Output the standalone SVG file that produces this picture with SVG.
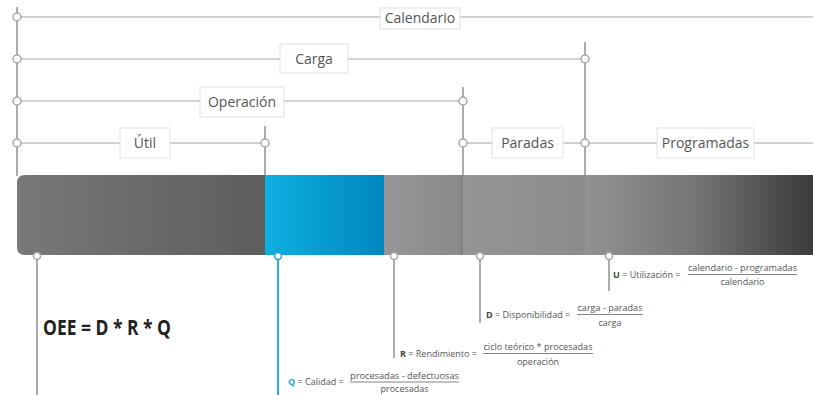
<svg xmlns="http://www.w3.org/2000/svg" width="813" height="395" viewBox="0 0 813 395">
  <defs>
    <linearGradient id="gUtil" x1="0" y1="0" x2="1" y2="0">
      <stop offset="0" stop-color="#787878"/>
      <stop offset="1" stop-color="#5d5d5d"/>
    </linearGradient>
    <linearGradient id="gBlue" x1="0" y1="0" x2="1" y2="0">
      <stop offset="0" stop-color="#0db0e0"/>
      <stop offset="1" stop-color="#0087bf"/>
    </linearGradient>
    <linearGradient id="gRend" x1="0" y1="0" x2="1" y2="0">
      <stop offset="0" stop-color="#979797"/>
      <stop offset="0.95" stop-color="#8a8a8a"/>
      <stop offset="1" stop-color="#7e7e7e"/>
    </linearGradient>
    <linearGradient id="gPar" x1="0" y1="0" x2="1" y2="0">
      <stop offset="0" stop-color="#959595"/>
      <stop offset="1" stop-color="#8c8c8c"/>
    </linearGradient>
    <linearGradient id="gProg" x1="0" y1="0" x2="1" y2="0">
      <stop offset="0" stop-color="#929292"/>
      <stop offset="0.5" stop-color="#747474"/>
      <stop offset="1" stop-color="#3b3b3b"/>
    </linearGradient>
    <clipPath id="barClip">
      <path d="M25,175 H813 V255 H25 Q17,255 17,247 V183 Q17,175 25,175 Z"/>
    </clipPath>
  </defs>
  <style>
    .ln { stroke: #c2c2c2; stroke-width: 1.5; fill: none; }
    .vl { stroke: #a3a3a3; stroke-width: 1.8; fill: none; }
    .dot { fill: #ffffff; stroke: #a8a8a8; stroke-width: 1.5; }
    .box { fill: #ffffff; stroke: #e2e2e2; stroke-width: 1; }
    .lbl { font-family: "Open Sans", "Liberation Sans", sans-serif; font-size: 14px; fill: #555555; text-anchor: middle; }
    .f { font-family: "Open Sans", "Liberation Sans", sans-serif; font-size: 9px; fill: #555555; }
    .fc { text-anchor: middle; }
    .fl { stroke: #777777; stroke-width: 0.9; }
    .b { font-weight: bold; }
  </style>

  <!-- connectors: span lines above the bar and leader lines below it -->
  <g id="connectors">
    <line class="vl" x1="17" y1="7" x2="17" y2="176"/>
    <line class="vl" x1="265" y1="126" x2="265" y2="176"/>
    <line class="vl" x1="463" y1="87" x2="463" y2="176"/>
    <line class="vl" x1="585" y1="42" x2="585" y2="176"/>
    <line class="ln" x1="17" y1="17" x2="813" y2="17"/>
    <line class="ln" x1="17" y1="59" x2="585" y2="59"/>
    <line class="ln" x1="17" y1="101" x2="463" y2="101"/>
    <line class="ln" x1="17" y1="143" x2="265" y2="143"/>
    <line class="ln" x1="463" y1="143" x2="585" y2="143"/>
    <line class="ln" x1="585" y1="143" x2="813" y2="143"/>
    <line class="vl" x1="37" y1="256" x2="37" y2="395"/>
    <line x1="278" y1="256" x2="278" y2="395" stroke="#1aa3d6" stroke-width="1.8"/>
    <line class="vl" x1="394" y1="256" x2="394" y2="358"/>
    <line class="vl" x1="480" y1="256" x2="480" y2="323"/>
    <line class="vl" x1="609" y1="256" x2="609" y2="291"/>
    <circle class="dot" cx="17" cy="17" r="4"/>
    <circle class="dot" cx="17" cy="59" r="4"/>
    <circle class="dot" cx="17" cy="101" r="4"/>
    <circle class="dot" cx="17" cy="143" r="4"/>
    <circle class="dot" cx="265" cy="143" r="4"/>
    <circle class="dot" cx="463" cy="101" r="4"/>
    <circle class="dot" cx="463" cy="143" r="4"/>
    <circle class="dot" cx="585" cy="59" r="4"/>
    <circle class="dot" cx="585" cy="143" r="4"/>
  </g>

  <!-- time bar -->
  <g id="bar" clip-path="url(#barClip)">
    <rect x="17" y="175" width="248" height="80" fill="url(#gUtil)"/>
    <rect x="265" y="175" width="119" height="80" fill="url(#gBlue)"/>
    <rect x="384" y="175" width="79" height="80" fill="url(#gRend)"/>
    <rect x="463" y="175" width="122" height="80" fill="url(#gPar)"/>
    <rect x="585" y="175" width="228" height="80" fill="url(#gProg)"/>
  </g>
  <g id="bar-markers">
    <circle class="dot" cx="37" cy="256" r="3.5"/>
    <circle cx="278" cy="256" r="3.5" fill="#ffffff" stroke="#1aa3d6" stroke-width="1.5"/>
    <circle class="dot" cx="394" cy="256" r="3.5"/>
    <circle class="dot" cx="480" cy="256" r="3.5"/>
    <circle class="dot" cx="609" cy="256" r="3.5"/>
  </g>

  <!-- span labels -->
  <g id="calendario">
    <rect class="box" x="380" y="8" width="80" height="21"/>
    <text class="lbl" x="420" y="23">Calendario</text>
  </g>
  <g id="carga">
    <rect class="box" x="280" y="44" width="68" height="29"/>
    <text class="lbl" x="314" y="64">Carga</text>
  </g>
  <g id="operacion">
    <rect class="box" x="200" y="87" width="84" height="30"/>
    <text class="lbl" x="242" y="107">Operación</text>
  </g>
  <g id="util">
    <rect class="box" x="120" y="128" width="50" height="30"/>
    <text class="lbl" x="145" y="148">Útil</text>
  </g>
  <g id="paradas">
    <rect class="box" x="492" y="128" width="71" height="30"/>
    <text class="lbl" x="527.5" y="148">Paradas</text>
  </g>
  <g id="programadas">
    <rect class="box" x="657" y="128" width="97" height="30"/>
    <text class="lbl" x="705.5" y="148">Programadas</text>
  </g>

  <!-- formulas -->
  <g id="oee">
    <text x="43" y="335" font-family="'Open Sans', 'Liberation Sans', sans-serif" font-size="21" font-weight="bold" fill="#222222" textLength="128" lengthAdjust="spacingAndGlyphs">OEE = D * R * Q</text>
  </g>
  <g id="utilizacion">
    <text class="f" x="613" y="278"><tspan class="b" fill="#444444">U</tspan> = Utilización =</text>
    <text class="f fc" x="742.5" y="271" textLength="109" lengthAdjust="spacingAndGlyphs">calendario - programadas</text>
    <line class="fl" x1="688" y1="274.5" x2="797" y2="274.5"/>
    <text class="f fc" x="742.5" y="285">calendario</text>
  </g>
  <g id="disponibilidad">
    <text class="f" x="486" y="318"><tspan class="b" fill="#444444">D</tspan> = Disponibilidad =</text>
    <text class="f fc" x="610" y="311" textLength="65" lengthAdjust="spacingAndGlyphs">carga - paradas</text>
    <line class="fl" x1="577" y1="314.5" x2="643" y2="314.5"/>
    <text class="f fc" x="610" y="326">carga</text>
  </g>
  <g id="rendimiento">
    <text class="f" x="400" y="357"><tspan class="b" fill="#444444">R</tspan> = Rendimiento =</text>
    <text class="f fc" x="538" y="350" textLength="109" lengthAdjust="spacingAndGlyphs">ciclo teórico * procesadas</text>
    <line class="fl" x1="483" y1="353.5" x2="593" y2="353.5"/>
    <text class="f fc" x="538" y="365">operación</text>
  </g>
  <g id="calidad">
    <text class="f" x="288" y="385"><tspan class="b" fill="#1aa3d6">Q</tspan> = Calidad =</text>
    <text class="f fc" x="404.5" y="378.5" textLength="109" lengthAdjust="spacingAndGlyphs">procesadas - defectuosas</text>
    <line class="fl" x1="350" y1="382" x2="459" y2="382"/>
    <text class="f fc" x="404.5" y="392">procesadas</text>
  </g>
</svg>
